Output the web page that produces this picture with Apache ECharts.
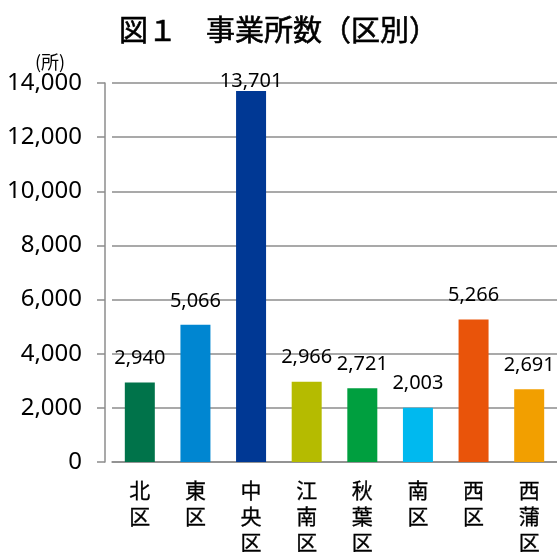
<!DOCTYPE html>
<html>
<head>
	<meta charset="utf-8">
	<title>事業所数（区別）</title>
	<style>
		body { margin: 0; background: #fff; }
		#box { width: 557px; height: 552px; }
	</style>
</head>
<body>
	<div id="box"></div>
</body>
<script type="text/javascript" src="https://cdn.jsdelivr.net/npm/echarts@6/dist/echarts.min.js"></script>
<script type="text/javascript">
	// 区の名前と事業所数
	var categories = ['北区', '東区', '中央区', '江南区', '秋葉区', '南区', '西区', '西蒲区'];
	var values = [2940, 5066, 13701, 2966, 2721, 2003, 5266, 2691];
	var barColors = ['#00734a', '#0086d1', '#003894', '#b5bb00', '#009f3f', '#00b9ef', '#e9540a', '#f29f00'];
	var yTicks = [0, 2000, 4000, 6000, 8000, 10000, 12000, 14000];

	var numFont = '"Noto Sans", sans-serif';
	var jpFont = '"Noto Sans CJK JP", sans-serif';

	var dom = document.getElementById('box');
	var myChart = echarts.init(dom);

	var items = values.map(function (v, i) {
		var item = { value: v, itemStyle: { color: barColors[i] } };
		if (v === Math.max.apply(null, values)) {
			item.label = { distance: 0 }; // 一番高い棒はラベルを近づける
		}
		return item;
	});

	myChart.setOption({
		animation: false,
		title: {
			text: '図１　事業所数（区別）',
			left: 'center',
			top: 10,
			textStyle: { fontFamily: jpFont, fontSize: 29, fontWeight: 'normal', color: '#000',
				textBorderColor: '#000', textBorderWidth: 0.6 }
		},
		grid: { left: 112, right: 0, top: 83, bottom: 90, outerBoundsMode: 'none' },
		xAxis: {
			type: 'category',
			data: categories,
			axisLine: { lineStyle: { color: '#8c8c8c', width: 1.5 } },
			axisTick: { lineStyle: { color: '#8c8c8c', width: 1.5 }, length: 6 },
			axisLabel: {
				interval: 0,
				margin: 15,
				fontFamily: jpFont,
				fontSize: 21,
				fontWeight: 'normal',
				color: '#000',
				textBorderColor: '#000',
				textBorderWidth: 0.3,
				lineHeight: 26,
				formatter: function (s) { return s.split('').join('\n'); }
			}
		},
		yAxis: {
			type: 'value',
			min: yTicks[0],
			max: yTicks[yTicks.length - 1],
			interval: 2000,
			offset: 7,
			name: '(所)',
			nameLocation: 'end',
			nameGap: 5,
			nameTextStyle: { fontFamily: jpFont, fontSize: 18, color: '#000', align: 'center', padding: [0, 0, 0, -110] },
			axisLine: { show: true, lineStyle: { color: '#8c8c8c', width: 1.5 } },
			axisTick: { show: true, lineStyle: { color: '#8c8c8c', width: 1.5 }, length: 8 },
			splitLine: { lineStyle: { color: '#8c8c8c', width: 1.5 } },
			axisLabel: {
				margin: 23,
				fontFamily: numFont,
				fontSize: 24,
				color: '#000',
				formatter: function (v) { return v.toLocaleString('en-US'); }
			}
		},
		series: [{
			type: 'bar',
			barWidth: 30,
			data: items,
			label: {
				show: true,
				position: 'top',
				distance: 14,
				fontFamily: numFont,
				fontSize: 20,
				color: '#000',
				formatter: function (p) { return p.value.toLocaleString('en-US'); }
			}
		}]
	});
</script>
</html>
